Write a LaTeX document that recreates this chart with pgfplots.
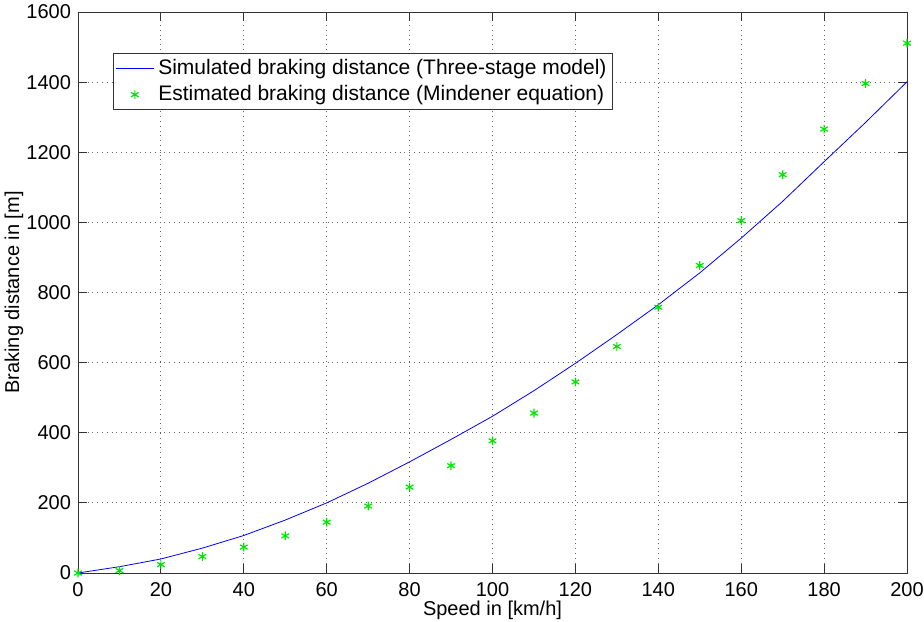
\documentclass[border=0pt]{standalone}
\usepackage{fontspec}
\setmainfont{Liberation Sans}
\usepackage{pgfplots}
\pgfplotsset{compat=1.18}
\pgfplotsset{
  linelegend/.style={legend image code/.code={\draw[##1] (0cm,0cm) -- (0.67cm,0cm);}},
  marklegend/.style={legend image code/.code={\draw[##1] plot coordinates {(0.335cm,0cm)};}},
}

\pgfplotstableread{
v s
0 0
10 18
20 40
30 71
40 107
50 151
60 200
70 256
80 317
90 381
100 447
110 520
120 598
130 680
140 765
150 856
160 955
170 1060
180 1173
190 1285
200 1401
}\simulated

\pgfplotstableread{
v s
0 0
10 7
20 24
30 47
40 74
50 106
60 145
70 191
80 245
90 306
100 377
110 456
120 545
130 646
140 758
150 877
160 1005
170 1136
180 1266
190 1396
200 1511
}\estimated

\begin{document}
\begin{tikzpicture}
\begin{axis}[
  scale only axis,
  width=414.5pt, height=280.5pt,
  xmin=0, xmax=200, ymin=0, ymax=1600,
  xtick={0,20,...,200}, ytick={0,200,...,1600},
  tick align=inside, major tick length=4.5pt,
  tick style={black!80, thin},
  axis line style={black!80},
  grid=major,
  major grid style={black!60, dotted, thin},
  /pgf/number format/assume math mode=true,
  /pgf/number format/1000 sep={},
  tick label style={font=\fontsize{10}{12}\selectfont},
  xticklabel style={yshift=-1pt},
  xlabel={Speed in [km/h]}, ylabel={Braking distance in [m]},
  label style={font=\fontsize{10}{12}\selectfont},
  xlabel style={at={(axis description cs:0.5,-0.066)}, anchor=center},
  ylabel style={at={(axis description cs:-0.0772,0.5)}, anchor=center},
  legend cell align=left,
  legend style={at={(axis description cs:0.0422,0.927)}, anchor=north west,
    draw=black!80, thin, font=\fontsize{10.5}{12.5}\selectfont,
    inner sep=1pt, row sep=0pt},
]
\addplot[blue, thin, linelegend] table[x=v, y=s] {\simulated};
\addlegendentry{Simulated braking distance (Three-stage model)}
\addplot[only marks, mark=asterisk, mark size=2.2pt, color=green!90!black, semithick, marklegend]
  table[x=v, y=s] {\estimated};
\addlegendentry{Estimated braking distance (Mindener equation)}
\end{axis}
\pgfresetboundingbox
\path (current axis.south west) ++(-39pt,-24pt) coordinate (bbA);
\path (current axis.north east) ++(8.5pt,6pt) coordinate (bbB);
\useasboundingbox (bbA) rectangle (bbB);
\end{tikzpicture}
\end{document}
